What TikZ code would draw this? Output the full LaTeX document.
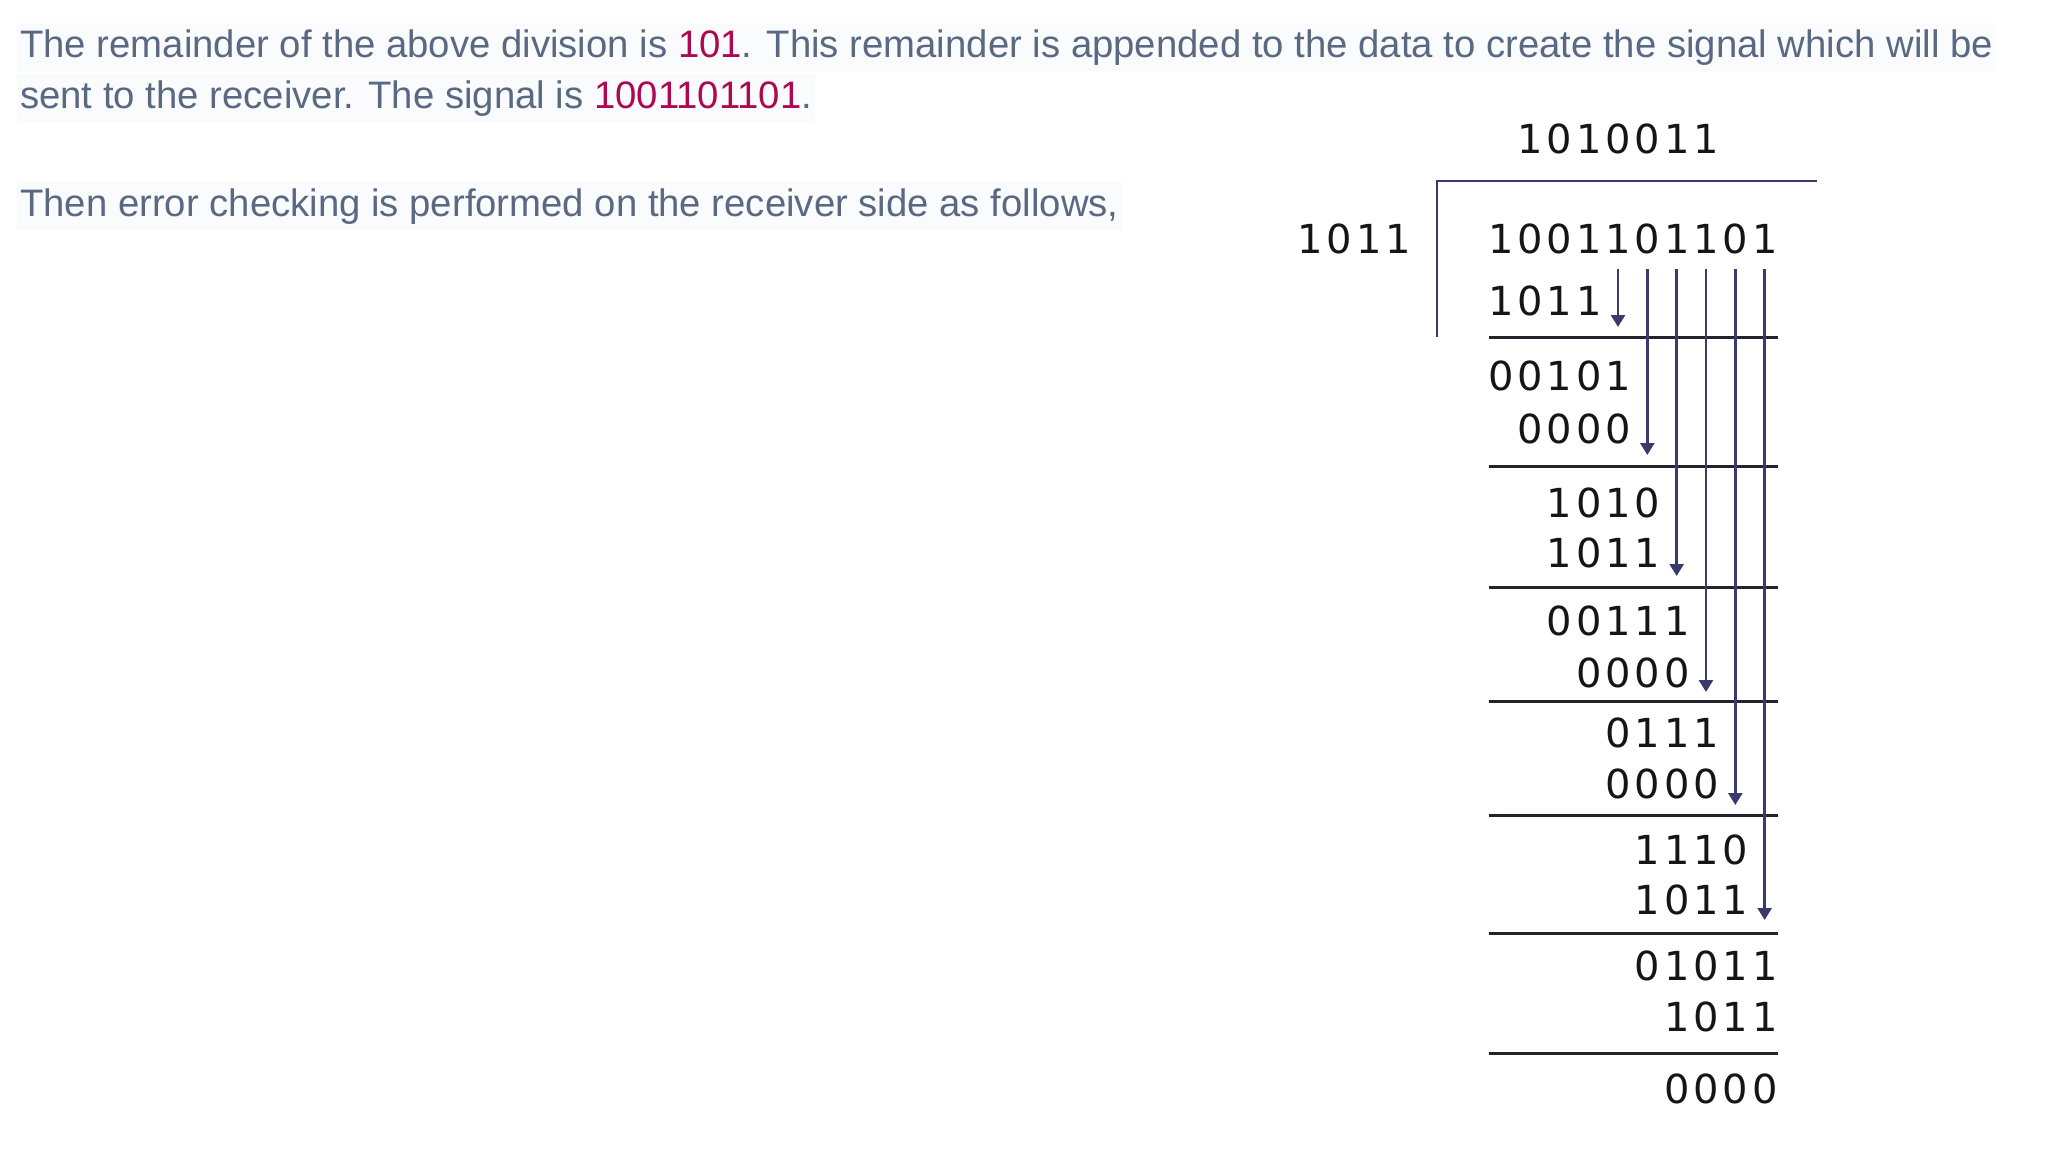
\documentclass[tikz,border=0pt]{standalone}
\usepackage{fontspec}
\usetikzlibrary{arrows.meta}
\newfontfamily\prosefamily{Liberation Sans}
\newfontfamily\bitfamily{DejaVu Sans}
\definecolor{slate}{HTML}{5A6982}
\definecolor{crimson}{HTML}{AD0850}
\definecolor{shade}{HTML}{FAFBFC}
\definecolor{navy}{HTML}{3A3A6C}
\definecolor{ink}{HTML}{151515}
\definecolor{rulecol}{HTML}{23232E}
\newcommand\bits[1]{\bitstep#1\relax}
\def\bitstep#1{\ifx\relax#1\else\makebox[29.33pt]{#1}\expandafter\bitstep\fi}
\tikzset{>={Triangle[width=14pt,length=12pt]},
  prose/.style={font=\prosefamily\fontsize{38.3}{51.5}\selectfont,text=slate,fill=shade,
    anchor=base west,inner xsep=3pt,inner ysep=6pt},
  bitrow/.style={font=\bitfamily\fontsize{40}{48}\selectfont,text=ink,anchor=base west,inner sep=0pt},
  rule/.style={draw=rulecol,line width=3pt},
  bar/.style={draw=navy,line width=2.6pt},
  carry/.style={->,draw=navy,line width=2.6pt}}

\begin{document}
\begin{tikzpicture}[x=1pt,y=-1pt]
\path[use as bounding box] (0,0) rectangle (2048,1152);

\node[prose] (line1) at (17,57) {The remainder of the above division is \textcolor{crimson}{101}. This remainder is appended to the data to create the signal which will be};
\node[prose] (line2) at (17,108) {sent to the receiver. The signal is \textcolor{crimson}{1001101101}.};
\node[prose] (line3) at (17,216) {Then error checking is performed on the receiver side as follows,};

\begin{scope}[x=29.33pt,xshift=1486pt]
\node[bitrow] (quot) at (1,153) {\bits{1010011}};
\node[bitrow] (divisor) at (-6.5,253) {\bits{1011}};
\node[bitrow] (dividend) at (0,253) {\bits{1001101101}};
\node[bitrow] (sub1) at (0,315) {\bits{1011}};
\node[bitrow] (rem2) at (0,390) {\bits{00101}};
\node[bitrow] (sub2) at (1,443) {\bits{0000}};
\node[bitrow] (rem3) at (2,517) {\bits{1010}};
\node[bitrow] (sub3) at (2,567) {\bits{1011}};
\node[bitrow] (rem4) at (2,635) {\bits{00111}};
\node[bitrow] (sub4) at (3,687) {\bits{0000}};
\node[bitrow] (rem5) at (4,747) {\bits{0111}};
\node[bitrow] (sub5) at (4,798) {\bits{0000}};
\node[bitrow] (rem6) at (5,864) {\bits{1110}};
\node[bitrow] (sub6) at (5,914) {\bits{1011}};
\node[bitrow] (rem7) at (5,980) {\bits{01011}};
\node[bitrow] (sub7) at (6,1031) {\bits{1011}};
\node[bitrow] (final) at (6,1103) {\bits{0000}};

\coordinate (barfoot) at (-1.67,337);
\coordinate (barend) at (11.29,181);
\draw[bar] (barfoot) |- (barend);
\foreach \y in {337,466,587,701,815,933,1053}
  \draw[rule] (0.1,\y) -- (9.95,\y);
\foreach \k/\t in {4/327,5/455,6/576,7/692,8/805,9/920}{
  \coordinate (drop\k) at (\k+0.5,269);
  \coordinate (land\k) at (\k+0.5,\t);
  \draw[carry] (drop\k) -- (land\k);
}
\end{scope}
\end{tikzpicture}
\end{document}
